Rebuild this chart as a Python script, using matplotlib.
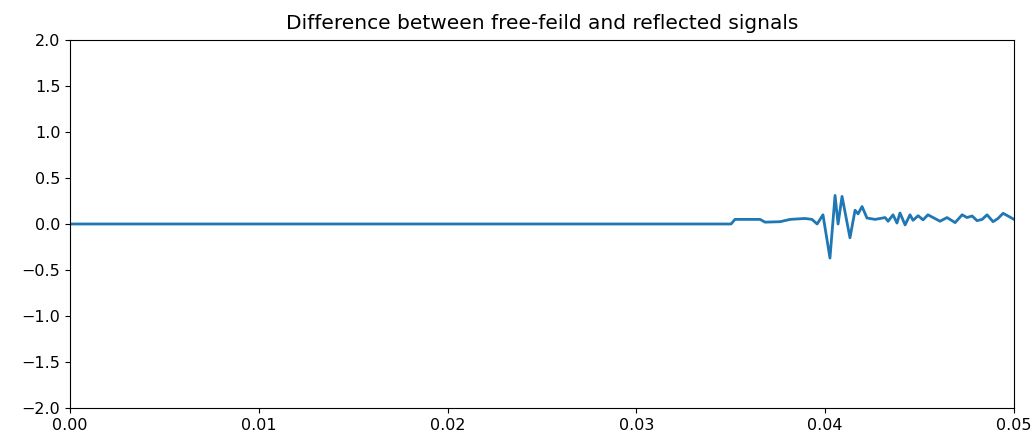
import numpy as np
import matplotlib
matplotlib.use("Agg")
import matplotlib.pyplot as plt

# time (s) and difference signal
t = [0.0, 0.03501, 0.03522, 0.03655, 0.03681, 0.03761, 0.03814, 0.03893, 0.0393,
     0.03957, 0.03988, 0.04025, 0.04052, 0.04068, 0.04089, 0.04131, 0.04158,
     0.04174, 0.04195, 0.04221, 0.04264, 0.04317, 0.04333, 0.04359, 0.0438,
     0.04396, 0.04423, 0.04449, 0.04465, 0.04492, 0.04518, 0.04544, 0.04571,
     0.04608, 0.04645, 0.04688, 0.04725, 0.04751, 0.04778, 0.04804, 0.04831,
     0.04857, 0.04889, 0.04915, 0.04942, 0.04968, 0.05]
diff = [0.0, 0.0, 0.05, 0.05, 0.02, 0.025, 0.05, 0.06, 0.05,
        0.0, 0.1, -0.37, 0.31, 0.0, 0.3, -0.15, 0.15,
        0.11, 0.19, 0.065, 0.05, 0.07, 0.03, 0.1, 0.01,
        0.12, -0.01, 0.1, 0.04, 0.09, 0.045, 0.1, 0.07,
        0.03, 0.07, 0.015, 0.1, 0.07, 0.087, 0.036, 0.05,
        0.1, 0.025, 0.06, 0.116, 0.087, 0.05]

fig = plt.figure(figsize=(10.34, 4.38), dpi=100)
ax = fig.add_axes([0.0677, 0.0685, 0.913, 0.8402])
ax.plot(t, diff, color="C0", linewidth=2)
ax.set_xlim(0, 0.05)
ax.set_ylim(-2, 2)
ax.set_xticks([0.0, 0.01, 0.02, 0.03, 0.04, 0.05])
ax.set_xticklabels(["0.00", "0.01", "0.02", "0.03", "0.04", "0.05"])
ax.set_yticks(np.arange(-2, 2.01, 0.5))
ax.tick_params(labelsize=11.5)
ax.set_title("Difference between free-feild and reflected signals", fontsize=14.5, pad=8)
fig.savefig("out.png", dpi=100)
